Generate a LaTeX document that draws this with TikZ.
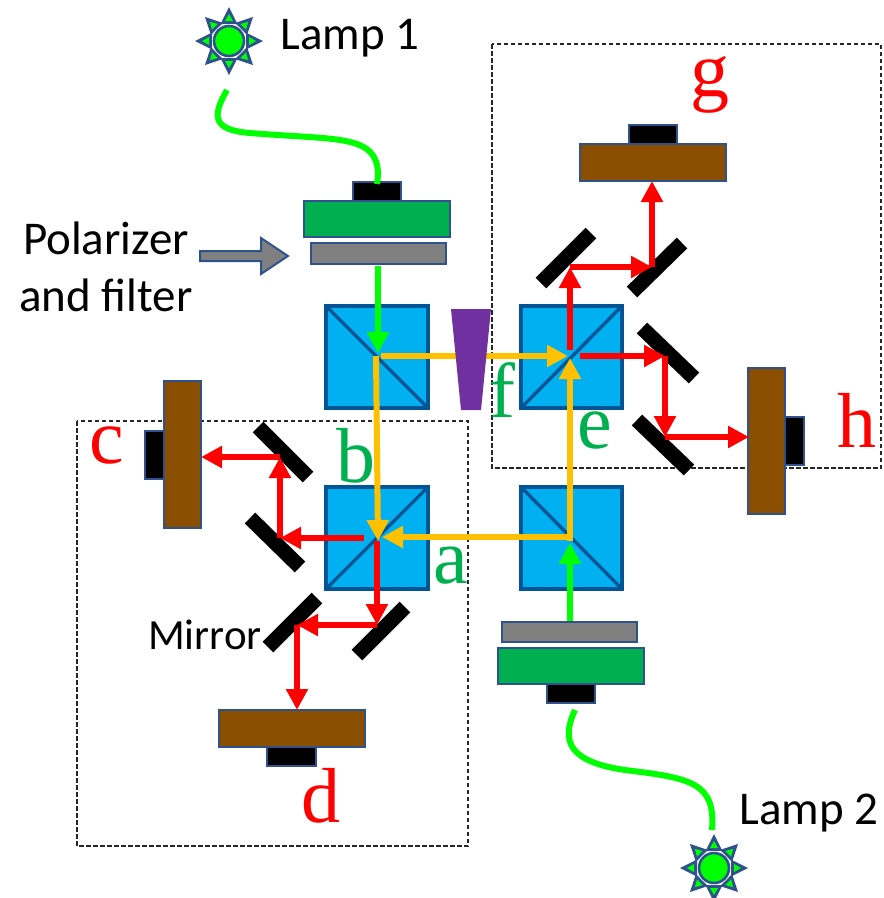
\documentclass[tikz,border=0pt]{standalone}
\usepackage{fontspec}
\setmainfont{Carlito}
\newfontfamily\letterfont{Liberation Serif}
\usetikzlibrary{arrows.meta}
\definecolor{edgeblue}{HTML}{2F528F}
\definecolor{cubeblue}{HTML}{00B0F0}
\definecolor{cubeedge}{HTML}{005596}
\definecolor{brownbox}{HTML}{8B4F00}
\definecolor{greenbox}{HTML}{00B050}
\definecolor{greybox}{HTML}{808080}
\definecolor{beamgreen}{HTML}{00FF00}
\definecolor{beamyellow}{HTML}{FFC000}
\definecolor{wedgepurple}{HTML}{7030A0}
\tikzset{
  box/.style={draw=edgeblue,line width=2.3pt},
  brownrect/.style={box,fill=brownbox},
  greenrect/.style={box,fill=greenbox},
  greyrect/.style={box,fill=greybox},
  blackrect/.style={box,fill=black},
  cube/.style={draw=cubeedge,line width=4pt,fill=cubeblue},
  mirror/.style={line width=15pt,black},
  tipa/.style={-{Triangle[length=21pt,width=21pt]}},
  redbeam/.style={line width=6pt,red},
  greenbeam/.style={line width=6pt,beamgreen},
  yellowbeam/.style={line width=6pt,beamyellow},
  fibre/.style={line width=6pt,beamgreen},
  framebox/.style={draw=black!85,line width=1.1pt,dash pattern=on 4.5pt off 2.5pt},
  lab/.style={font=\fontsize{47}{57}\selectfont,inner sep=0pt,align=center},
  redl/.style={font=\fontsize{78}{78}\selectfont\letterfont,text=red,inner sep=0pt},
  greenl/.style={font=\fontsize{78}{78}\selectfont\letterfont,text=greenbox,inner sep=0pt},
}
\newcommand{\rectnode}[6]{% style name x1 y1 x2 y2
  \path[#1] (#3,#4) rectangle (#5,#6);
  \coordinate (#2) at ({(#3+#5)/2},{(#4+#6)/2});}
\newcommand{\lampshape}[3]{% name x y
  \coordinate (#1) at (#2,#3);
  \begin{scope}[shift={(#2,#3)}]
    \foreach \a in {0,45,...,315}{
      \begin{scope}[rotate=\a]
        \path[fill=edgeblue] (34,0) -- (17,-8.5) -- (17,8.5) -- cycle;
        \path[fill=beamgreen] (27,0) -- (20,-4) -- (20,4) -- cycle;
      \end{scope}}
    \path[fill=white] (0,0) circle (17);
    \path[draw=edgeblue,line width=2.6pt,fill=beamgreen] (0,0) circle (15);
  \end{scope}}
\begin{document}
\begin{tikzpicture}[x=1pt,y=-1pt]
\useasboundingbox (0,0) rectangle (884,898);
% frames
\path[framebox] (492,44) rectangle (881,468);
\path[framebox] (77,421) rectangle (468,846);
% cubes
\path[cube] (326,306) rectangle (428,408);
\path[cube] (521,306) rectangle (622,408);
\path[cube] (326,487) rectangle (428,589);
\path[cube] (521,487) rectangle (622,589);
\draw[cubeedge,line width=3.4pt] (326,306) -- (428,408);
\draw[cubeedge,line width=3.4pt] (521,408) -- (622,306);
\draw[cubeedge,line width=3.4pt] (326,589) -- (428,487);
\draw[cubeedge,line width=3.4pt] (521,487) -- (622,589);
% detectors and sources
\rectnode{brownrect}{g0}{580}{144}{726}{181}
\rectnode{blackrect}{g1}{629}{125}{677}{144}
\rectnode{brownrect}{h0}{748}{368}{785}{514}
\rectnode{blackrect}{h1}{785}{417}{804}{465}
\rectnode{brownrect}{c0}{164}{381}{201}{528}
\rectnode{blackrect}{c1}{145}{431}{164}{479}
\rectnode{brownrect}{d0}{219}{710}{365}{747}
\rectnode{blackrect}{d1}{267}{747}{316}{766}
\rectnode{blackrect}{s1}{353}{182}{401}{201}
\rectnode{greenrect}{s2}{304}{201}{450}{237}
\rectnode{greyrect}{s3}{311}{243}{446}{264}
\rectnode{greyrect}{t3}{502}{622}{637}{642}
\rectnode{greenrect}{t2}{498}{648}{644}{684}
\rectnode{blackrect}{t1}{547}{684}{595}{703}
% lamps
\lampshape{lampA}{229}{41}
\lampshape{lampB}{714}{868}
% fibres
\coordinate (fa) at (227,90);
\coordinate (fb) at (377,184);
\coordinate (fc) at (575,710);
\coordinate (fd) at (712,830);
\draw[fibre] (fa) .. controls (212,116) and (212,130) .. (250,133) .. controls (300,137) and (330,137) .. (350,142) .. controls (372,147) and (381,160) .. (fb);
\draw[fibre] (fc) .. controls (560,742) and (570,762) .. (625,770) .. controls (690,778) and (716,782) .. (fd);
% mirrors
\coordinate (m1a) at (541,283); \coordinate (m1b) at (591,233);
\coordinate (m2a) at (632,292); \coordinate (m2b) at (682,243);
\coordinate (m3a) at (642,328); \coordinate (m3b) at (694,378);
\coordinate (m4a) at (637,420); \coordinate (m4b) at (689,470);
\coordinate (m5a) at (258,427); \coordinate (m5b) at (308,477);
\coordinate (m6a) at (250,518); \coordinate (m6b) at (300,567);
\coordinate (m7a) at (317,598); \coordinate (m7b) at (268,647);
\coordinate (m8a) at (405,607); \coordinate (m8b) at (357,655);
\foreach \p/\q in {m1a/m1b,m2a/m2b,m3a/m3b,m4a/m4b,m5a/m5b,m6a/m6b,m7a/m7b,m8a/m8b}
  \draw[mirror] (\p) -- (\q);
% beam junctions
\coordinate (A2) at (378,541);
\coordinate (A3) at (570,537);
% yellow beams
\draw[yellowbeam,tipa] (376,356) -- (A2);
\draw[yellowbeam,tipa] (381,356) -- (568,356);
\draw[yellowbeam,tipa] (A3) -- (382,537);
\draw[yellowbeam,tipa] (570,541) -- (570,358);
% green beams
\draw[greenbeam,tipa] (378,266) -- (378,353);
\draw[greenbeam,tipa] (570,621) -- (570,543);
% wedge
\path[fill=wedgepurple] (451,309) -- (491,309) -- (481,410) -- (461,410) -- cycle;
% red beams
\coordinate (rc1) at (280,538);
\coordinate (rc2) at (280,457);
\coordinate (rcend) at (201,457);
\coordinate (rd1) at (377,625);
\coordinate (rd2) at (297,625);
\coordinate (rdend) at (297,710);
\coordinate (rg1) at (570,267);
\coordinate (rg2) at (652,267);
\coordinate (rgend) at (652,181);
\coordinate (rh1) at (665,356);
\coordinate (rh2) at (665,437);
\coordinate (rhend) at (749,437);
\draw[redbeam,tipa] (364,538) -- (rc1);
\draw[redbeam,tipa] (rc1) -- (rc2);
\draw[redbeam,tipa] (rc2) -- (rcend);
\draw[redbeam,tipa] (377,541) -- (rd1);
\draw[redbeam,tipa] (rd1) -- (rd2);
\draw[redbeam,tipa] (rd2) -- (rdend);
\draw[redbeam,tipa] (570,350) -- (rg1);
\draw[redbeam,tipa] (rg1) -- (rg2);
\draw[redbeam,tipa] (rg2) -- (rgend);
\draw[redbeam,tipa] (580,356) -- (rh1);
\draw[redbeam,tipa] (rh1) -- (rh2);
\draw[redbeam,tipa] (rh2) -- (rhend);
% polarizer arrow
\path[draw=edgeblue,line width=2pt,fill=greybox] (200,251) -- (261,251) -- (261,238) -- (288,256) -- (261,274) -- (261,261) -- (200,261) -- cycle;
% labels
\node[lab] (l1) at (350,38) {Lamp 1};
\node[lab] (l2) at (809,813) {Lamp 2};
\node[lab] (pf) at (106,267) {Polarizer\\and filter};
\node[lab,font=\fontsize{43}{48}\selectfont] (mr) at (205,635) {Mirror};
\node[redl] (lg) at (710,85) {g};
\node[redl] (lh) at (857,420) {h};
\node[redl] (lc) at (107,445) {c};
\node[redl] (ld) at (321,796) {d};
\node[greenl] (lb) at (356,456) {b};
\node[greenl] (la) at (451,566) {a};
\node[greenl] (lf) at (502,390) {f};
\node[greenl] (le) at (595,430) {e};
\end{tikzpicture}
\end{document}
